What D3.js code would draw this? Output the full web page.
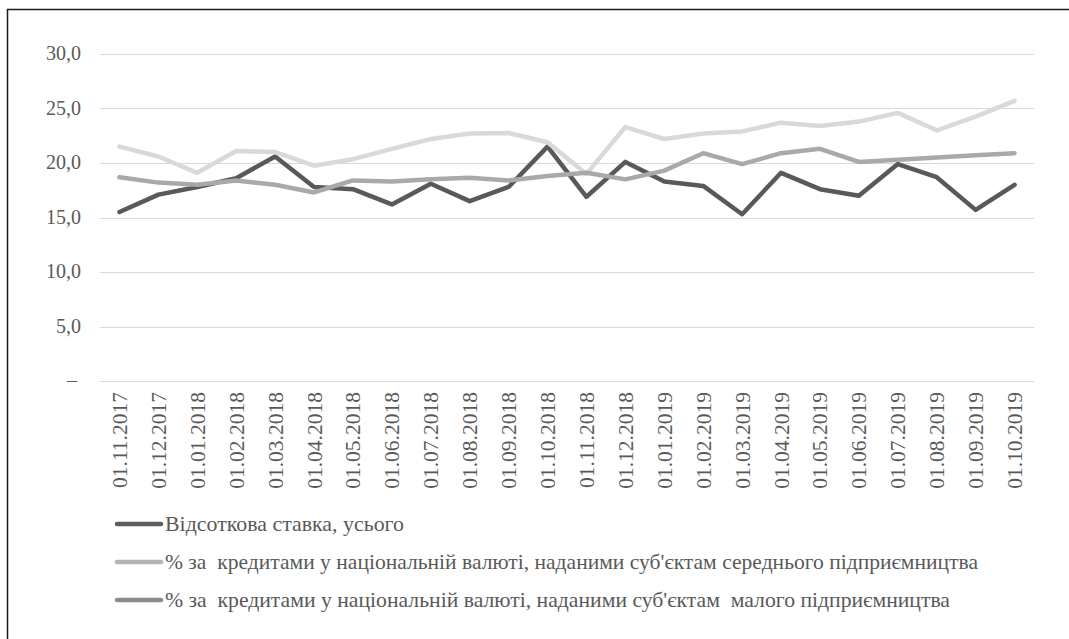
<!DOCTYPE html>
<html>
<head>
<meta charset="utf-8">
<script src="https://cdn.jsdelivr.net/npm/d3@7/dist/d3.min.js"></script>
</head>
<body style="margin:0">
<svg id="rates" width="1069" height="639" style="display:block"></svg>
<script>
// Monthly reporting dates
const dates = [
  "01.11.2017", "01.12.2017", "01.01.2018", "01.02.2018", "01.03.2018", "01.04.2018",
  "01.05.2018", "01.06.2018", "01.07.2018", "01.08.2018", "01.09.2018", "01.10.2018",
  "01.11.2018", "01.12.2018", "01.01.2019", "01.02.2019", "01.03.2019", "01.04.2019",
  "01.05.2019", "01.06.2019", "01.07.2019", "01.08.2019", "01.09.2019", "01.10.2019"
];

// Interest rate, total
const rateTotal = [15.5, 17.1, 17.8, 18.6, 20.6, 17.8, 17.6, 16.2, 18.1, 16.5, 17.8, 21.5,
                   16.9, 20.1, 18.3, 17.9, 15.3, 19.1, 17.6, 17.0, 19.9, 18.7, 15.7, 18.0];

// Loans in national currency, medium-sized enterprises
const rateMedium = [21.5, 20.6, 19.1, 21.1, 21.0, 19.75, 20.35, 21.3, 22.2, 22.7, 22.75, 21.9,
                    19.0, 23.3, 22.2, 22.7, 22.9, 23.7, 23.4, 23.8, 24.6, 23.0, 24.25, 25.7];

// Loans in national currency, small enterprises
const rateSmall = [18.7, 18.2, 18.0, 18.4, 18.0, 17.3, 18.4, 18.3, 18.5, 18.65, 18.4, 18.8,
                   19.1, 18.5, 19.3, 20.9, 19.9, 20.9, 21.3, 20.1, 20.3, 20.5, 20.7, 20.9];

const yTicks = [0, 5, 10, 15, 20, 25, 30];
const yTickLabels = ["–", "5,0", "10,0", "15,0", "20,0", "25,0", "30,0"];

const seriesNames = [
  "Відсоткова ставка, усього",
  "% за  кредитами у національній валюті, наданими суб'єктам середнього підприємництва",
  "% за  кредитами у національній валюті, наданими суб'єктам  малого підприємництва"
];

const TEXT_COLOR = "#595959";

const series = [
  { name: seriesNames[0], values: rateTotal,  color: "#595959", swatch: "#5e5e5e", width: 239 },
  { name: seriesNames[1], values: rateMedium, color: "#d9d9d9", swatch: "#b4b4b4", width: 813 },
  { name: seriesNames[2], values: rateSmall,  color: "#a9a9a9", swatch: "#8c8c8c", width: 785 }
];

const svg = d3.select("#rates");
const plot = { left: 100, right: 1034, top: 54, bottom: 381 };

const x = d3.scalePoint().domain(dates).range([plot.left, plot.right]).padding(0.5);
const y = d3.scaleLinear().domain([0, 30]).range([plot.bottom, plot.top]);

// Frame
svg.append("path")
  .attr("d", `M7.5,639 V9.5 H1069`)
  .attr("fill", "none")
  .attr("stroke", "#1a1a1a")
  .attr("stroke-width", 1.5);

// Horizontal gridlines
svg.append("g")
  .selectAll("line")
  .data(yTicks)
  .join("line")
  .attr("x1", plot.left).attr("x2", plot.right)
  .attr("y1", d => Math.round(y(d)) + 0.5).attr("y2", d => Math.round(y(d)) + 0.5)
  .attr("stroke", "#d9d9d9")
  .attr("stroke-width", 1.2);

// Y axis labels at the scale's positions
svg.selectAll("text.ylab")
  .data(yTicks)
  .join("text")
  .attr("class", "ylab")
  .attr("x", d => d === 0 ? 77 : 81)
  .attr("y", d => y(d))
  .attr("dy", "0.32em")
  .attr("text-anchor", "end")
  .attr("font-family", "Liberation Serif")
  .attr("font-size", 20)
  .attr("fill", TEXT_COLOR)
  .text((d, i) => yTickLabels[i]);

// X axis labels (rotated) at the point scale's positions
svg.selectAll("text.xlab")
  .data(dates)
  .join("text")
  .attr("class", "xlab")
  .attr("transform", d => `translate(${x(d)},${plot.bottom + 11}) rotate(-90)`)
  .attr("dy", "0.35em")
  .attr("text-anchor", "end")
  .attr("font-family", "Liberation Serif")
  .attr("font-size", 21.5)
  .attr("fill", TEXT_COLOR)
  .text(d => d);

// Series lines
const line = d3.line()
  .x((d, i) => x(dates[i]))
  .y(d => y(d));

svg.append("g")
  .selectAll("path")
  .data(series)
  .join("path")
  .attr("d", d => line(d.values))
  .attr("fill", "none")
  .attr("stroke", d => d.color)
  .attr("stroke-width", 4.5)
  .attr("stroke-linejoin", "round")
  .attr("stroke-linecap", "round");

// Legend
const legendY = [524, 562, 600];

svg.selectAll("line.swatch")
  .data(series)
  .join("line")
  .attr("class", "swatch")
  .attr("x1", 117).attr("x2", 161)
  .attr("y1", (d, i) => legendY[i]).attr("y2", (d, i) => legendY[i])
  .attr("stroke", d => d.swatch)
  .attr("stroke-width", 4.5)
  .attr("stroke-linecap", "round");

svg.selectAll("text.leg")
  .data(series)
  .join("text")
  .attr("class", "leg")
  .attr("x", 165)
  .attr("y", (d, i) => legendY[i])
  .attr("dy", "0.35em")
  .attr("font-family", "Liberation Serif")
  .attr("font-size", 21)
  .attr("fill", TEXT_COLOR)
  .style("white-space", "pre")
  .attr("textLength", d => d.width)
  .attr("lengthAdjust", "spacingAndGlyphs")
  .text(d => d.name);
</script>
</body>
</html>
